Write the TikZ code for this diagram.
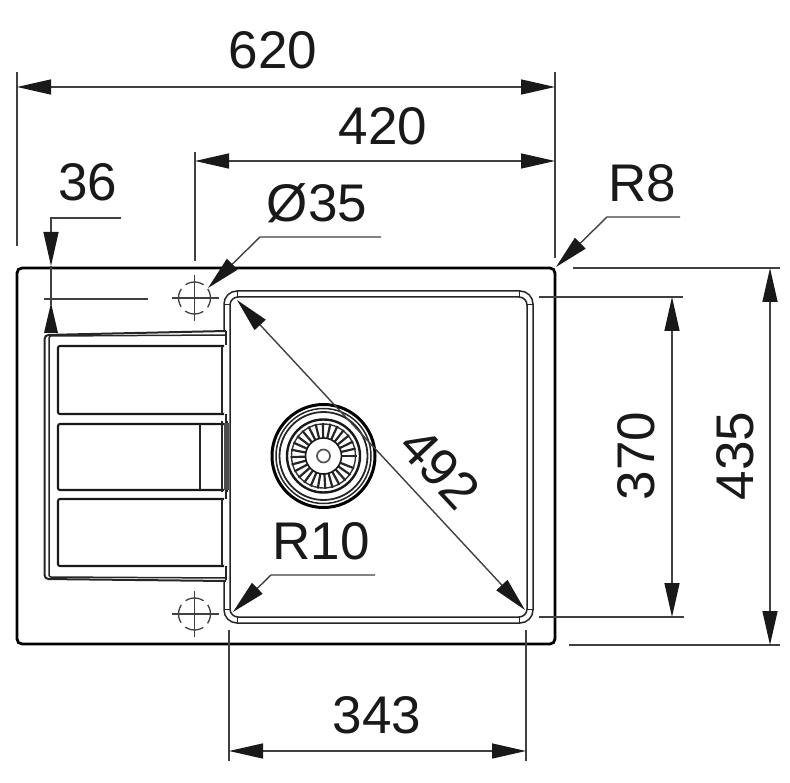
\documentclass[tikz,border=0pt]{standalone}
\usepackage{fontspec}
\setmainfont{Liberation Sans}
\usetikzlibrary{arrows.meta}
\tikzset{
  dimline/.style={draw=black!75,line width=1.4pt,line cap=butt},
  tipped/.style={dimline,{Triangle[length=34pt,width=15pt,color=black!90]}-{Triangle[length=34pt,width=15pt,color=black!90]}},
  tipend/.style={dimline,-{Triangle[length=34pt,width=15pt,color=black!90]}},
  sinkedge/.style={draw=black,line width=2.8pt},
  thinedge/.style={draw=black!85,line width=1.5pt},
  slotedge/.style={draw=black!90,line width=2.1pt},
  holemark/.style={draw=black!75,line width=1.3pt,dash pattern=on 19pt off 6pt,dash phase=9.5pt},
  lbl/.style={inner sep=0pt,font=\fontsize{53}{53}\selectfont,text=black!90}
}
\begin{document}
\begin{tikzpicture}[x=1pt,y=-1pt]
\useasboundingbox (0,0) rectangle (790,783);
% sink outline
\draw[sinkedge,rounded corners=5pt] (17,268) rectangle (555,644);
% bowl
\draw[thinedge,rounded corners=13pt] (224,331) -- (224,291) -- (533,291) -- (533,623) -- (224,623) -- (224,580);
\draw[thinedge,rounded corners=8pt] (230,297) rectangle (527,617);
\foreach \xa/\ya/\xb/\yb in {237/291/237/297,224/305/230/305,519/291/519/297,527/305/533/305,237/617/237/623,224/609/230/609,519/617/519/623,527/609/533/609}
  \draw[thinedge,line width=1pt] (\xa,\ya) -- (\xb,\yb);
% drainer
\draw[thinedge,line width=2pt,rounded corners=4pt] (226,331) -- (44.5,335) -- (44.5,579) -- (226,581);
\draw[thinedge,rounded corners=2pt] (226,335) -- (49,336) -- (49,577) -- (226,578);
\draw[thinedge] (226,331) -- (226,345);
\draw[thinedge] (226,414) -- (226,424);
\draw[thinedge] (226,490) -- (226,499);
\draw[thinedge] (226,566) -- (226,580);
\draw[slotedge,rounded corners=2pt] (224,346) -- (58,346) -- (58,414) -- (224,414);
\draw[slotedge,rounded corners=2pt] (224,424) -- (58,424) -- (58,490) -- (224,490);
\draw[slotedge,rounded corners=2pt] (224,499) -- (58,499) -- (58,566) -- (224,566);
\draw[thinedge] (222,346) -- (222,414);
\draw[thinedge] (222,499) -- (222,566);
\draw[thinedge,line width=1.8pt] (200,424) -- (200,490);
\draw[thinedge] (222,421) -- (222,492);
\draw[thinedge] (227,421) -- (227,492);
\fill[black!70] (224,423) rectangle (229,490);
% tap holes
\foreach \cy in {298,614}{
  \draw[holemark] (194.5,\cy) circle (16pt);
  \draw[dimline,line width=1.1pt] (172,\cy) -- (219,\cy);
  \draw[dimline,line width=1.1pt] (194.5,\cy-23) -- (194.5,\cy+23);
}
% strainer
\draw[draw=black,line width=3pt] (323.5,456) circle (51.5pt);
\draw[draw=black!85,line width=1.5pt] (323.5,456) circle (47.5pt);
\draw[draw=black!85,line width=1.8pt] (323.5,456) circle (44pt);
\draw[draw=black!90,line width=2.4pt] (323.5,456) circle (36.5pt);
\draw[draw=black!80,line width=1.4pt] (323.5,456) circle (32pt);
\foreach \a in {0,13,...,350}
  \draw[draw=black!85,line width=2.2pt] (323.5,456) ++(\a:18pt) -- ++(\a:15pt);
\draw[draw=black!90,fill=white,line width=1.6pt] (323.5,456) circle (18pt);
\draw[draw=black!65,line width=1.8pt] (323.5,456) circle (6.5pt);
% extension lines
\draw[dimline] (17,72) -- (17,246);
\draw[dimline] (555,72) -- (555,258);
\draw[dimline] (195,152) -- (195,261);
\draw[dimline] (44,299) -- (148,299);
\draw[dimline] (539,297) -- (683,297);
\draw[dimline] (539,617) -- (684,617);
\draw[dimline] (573,268) -- (780,268);
\draw[dimline] (569,645) -- (780,645);
\draw[dimline] (229,630) -- (229,761);
\draw[dimline] (526,630) -- (526,761);
% dimension lines
\draw[tipped] (17,87) -- (555,87);
\draw[tipped] (195,161) -- (555,161);
\draw[tipped] (672,297) -- (672,617);
\draw[tipped] (770,268) -- (770,645);
\draw[tipped] (229,751) -- (526,751);
\draw[tipped] (237,300) -- (525,610);
\draw[tipend] (121,218) -- (51,218) -- (51,266);
\draw[dimline] (51,266) -- (51,305);
\fill[black!90] (51,303) -- (58,333) -- (44,333) -- cycle;
\draw[tipend] (381,237) -- (260,237) -- (208,288);
\draw[tipend] (680,217) -- (607,217) -- (556,267);
\draw[tipend] (375,575) -- (271,575) -- (233,612);
% labels
\node[lbl] (d620) at (273,50) {620};
\node[lbl] (d420) at (383,126) {420};
\node[lbl] (d36) at (88,182) {36};
\node[lbl] (d35) at (317,203) {Ø35};
\node[lbl] (r8) at (642,183) {R8};
\node[lbl,rotate=-47] (d492) at (440,468) {492};
\node[lbl] (r10) at (321,541) {R10};
\node[lbl,rotate=90] (d370) at (636,456) {370};
\node[lbl,rotate=90] (d435) at (735,456) {435};
\node[lbl] (d343) at (377,715) {343};
\end{tikzpicture}
\end{document}
